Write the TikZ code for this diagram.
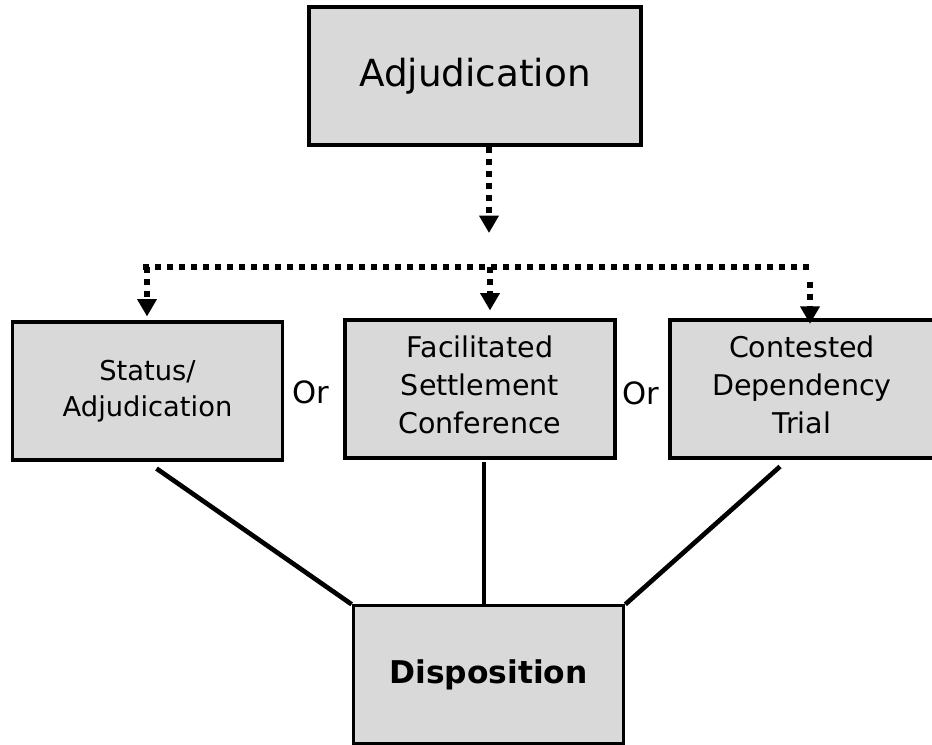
\documentclass[tikz,border=0pt]{standalone}
\usepackage{fontspec}
\setmainfont{DejaVu Sans}
\usetikzlibrary{arrows.meta}
\definecolor{boxgray}{HTML}{D9D9D9}
\begin{document}
\begin{tikzpicture}[x=0.75pt,y=-0.75pt,
    box/.style={draw,line width=2.3pt,fill=boxgray,align=center,inner sep=0pt},
    dots/.style={line width=4pt,dash pattern=on 4.5pt off 4.5pt},
    dotarrow/.style={dots,-{Triangle[length=13pt,width=14pt]}},
    link/.style={line width=3.5pt}]
  \useasboundingbox (0,0) rectangle (932,744);
  \draw
    (475,76) node[box,minimum width=249pt,minimum height=103.5pt,
      font=\fontsize{28}{33}\selectfont] (adj){Adjudication}
    (147.5,391) node[box,minimum width=203pt,minimum height=103.5pt,
      font=\fontsize{20.5}{27}\selectfont] (status){Status/\\Adjudication}
    (480,389) node[box,minimum width=202.5pt,minimum height=103.5pt,text depth=7pt,
      font=\fontsize{21.4}{28.5}\selectfont] (settle){Facilitated\\Settlement\\Conference}
    (802,389) node[box,minimum width=198pt,minimum height=103.5pt,text depth=7pt,
      font=\fontsize{21.4}{28.5}\selectfont] (trial){Contested\\Dependency\\Trial}
    (488.5,674.5) node[box,minimum width=203pt,minimum height=103pt,
      font=\bfseries\fontsize{23.5}{28}\selectfont] (disp){Disposition}
    (311,392) node[font=\fontsize{23}{27}\selectfont] (or1){Or}
    (641,393) node[font=\fontsize{23}{27}\selectfont] (or2){Or};
  % dotted split
  \coordinate (hub) at (489,233);
  \coordinate (splitL) at (147,267);
  \coordinate (splitM) at (490,267);
  \coordinate (splitR) at (810,267);
  \draw[dotarrow] (hub |- adj.south) -- (hub);
  \draw[dots] ([xshift=-3pt]splitL) -- ([xshift=1.5pt]splitR);
  \draw[dotarrow,shorten >=3pt] (splitL) -- (splitL |- status.north);
  \draw[dotarrow,shorten >=6pt] (splitM) -- (splitM |- settle.north);
  \draw[dotarrow] ([yshift=-11pt]splitR) -- ([yshift=-4pt]splitR |- trial.north);
  % solid links
  \coordinate (midtop) at (484,462);
  \draw[link] ([shift={(9,7)}]status.south) -- (disp.north west);
  \draw[link] (midtop) -- (midtop |- disp.north);
  \draw[link] ([shift={(-22,7)}]trial.south) -- (disp.north east);
\end{tikzpicture}
\end{document}
